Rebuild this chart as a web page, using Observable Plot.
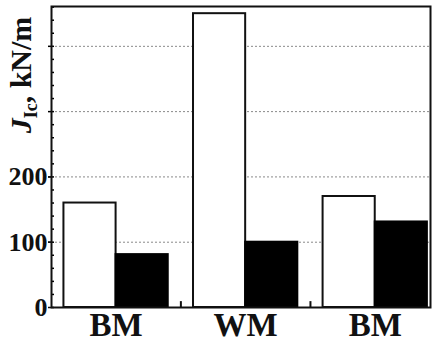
<!DOCTYPE html>
<html>
<head>
<meta charset="utf-8">
<script src="https://cdn.jsdelivr.net/npm/d3@7"></script>
<script src="https://cdn.jsdelivr.net/npm/@observablehq/plot@0.6"></script>
<style>
  html, body { margin: 0; padding: 0; background: #fff; overflow: hidden; }
  #chart svg { display: block; }
</style>
</head>
<body>
<div id="chart"></div>
<script>
// Data
const groups = ["BM1", "WM", "BM2"];
const groupLabels = ["BM", "WM", "BM"];
const whiteValues = [160, 450, 170];
const blackValues = [81, 100, 131];
const majorTicks = [0, 100, 200];
const gridValues = [100, 200, 300, 400];
const minorTicks = d3.range(0, 461, 20);

const W = 432, H = 344;
const mL = 51, mR = 2, mT = 6, mB = 37;
const xOpts = {type: "band", domain: groups, paddingInner: 0.195, paddingOuter: 0.06, align: 0.8, round: false};
const sx = Plot.scale({x: {...xOpts, range: [mL, W - mR]}});
const bw = sx.bandwidth, step = sx.step;

const whiteData = groups.map((g, i) => ({g, v: whiteValues[i]}));
const blackData = groups.map((g, i) => ({g, v: blackValues[i]}));
const labelMap = new Map(groups.map((g, i) => [g, groupLabels[i]]));
const serif = "'Liberation Serif', 'Times New Roman', serif";

const chart = Plot.plot({
  width: W, height: H,
  marginLeft: mL, marginRight: mR, marginTop: mT, marginBottom: mB,
  style: {background: "#fff", color: "#111"},
  x: {...xOpts, axis: null},
  y: {domain: [0, 461], axis: null},
  marks: [
    Plot.ruleY(gridValues, {stroke: "#8a8a8a", strokeWidth: 1, strokeDasharray: "2,2"}),
    Plot.barY(whiteData, {x: "g", y: "v", fill: "#fff", stroke: "#111", strokeWidth: 2, insetRight: bw / 2}),
    Plot.barY(blackData, {x: "g", y: "v", fill: "#000", stroke: "#000", strokeWidth: 2, insetLeft: bw / 2}),
    Plot.ruleX(groups.slice(0, 2), {x: d => d, dx: step / 2, y1: 0, y2: 9, stroke: "#111", strokeWidth: 2}),
    Plot.axisY(minorTicks, {anchor: "left", tickSize: -3, text: null, label: null, strokeWidth: 1.5, stroke: "#000"}),
    Plot.axisY(gridValues, {anchor: "left", tickSize: 3, text: null, label: null, strokeWidth: 1.5, stroke: "#000"}),
    Plot.axisY(majorTicks, {anchor: "left", tickSize: 3, tickPadding: 1, label: null,
      fontSize: 26, fontWeight: "bold", fontFamily: serif, fill: "#111", strokeWidth: 1.5}),
    Plot.axisX(groups, {anchor: "bottom", tickSize: 0, tickPadding: 5, label: null,
      tickFormat: d => labelMap.get(d), fontSize: 33, fontWeight: "bold", fontFamily: serif, fill: "#111"}),
    Plot.frame({stroke: "#111", strokeWidth: 2})
  ]
});

// Y axis title with italic J and subscript
const svg = d3.select(chart);
const t = svg.append("text")
  .attr("transform", "translate(31,75) rotate(-90)")
  .attr("text-anchor", "middle")
  .attr("font-family", serif)
  .attr("font-weight", "bold")
  .attr("font-size", 30)
  .attr("fill", "#111");
t.append("tspan").attr("font-style", "italic").text("J");
t.append("tspan").attr("font-size", 18).attr("dy", 6).text("Ic");
t.append("tspan").attr("dy", -6).text(", kN/m");

document.getElementById("chart").appendChild(chart);
</script>
</body>
</html>
